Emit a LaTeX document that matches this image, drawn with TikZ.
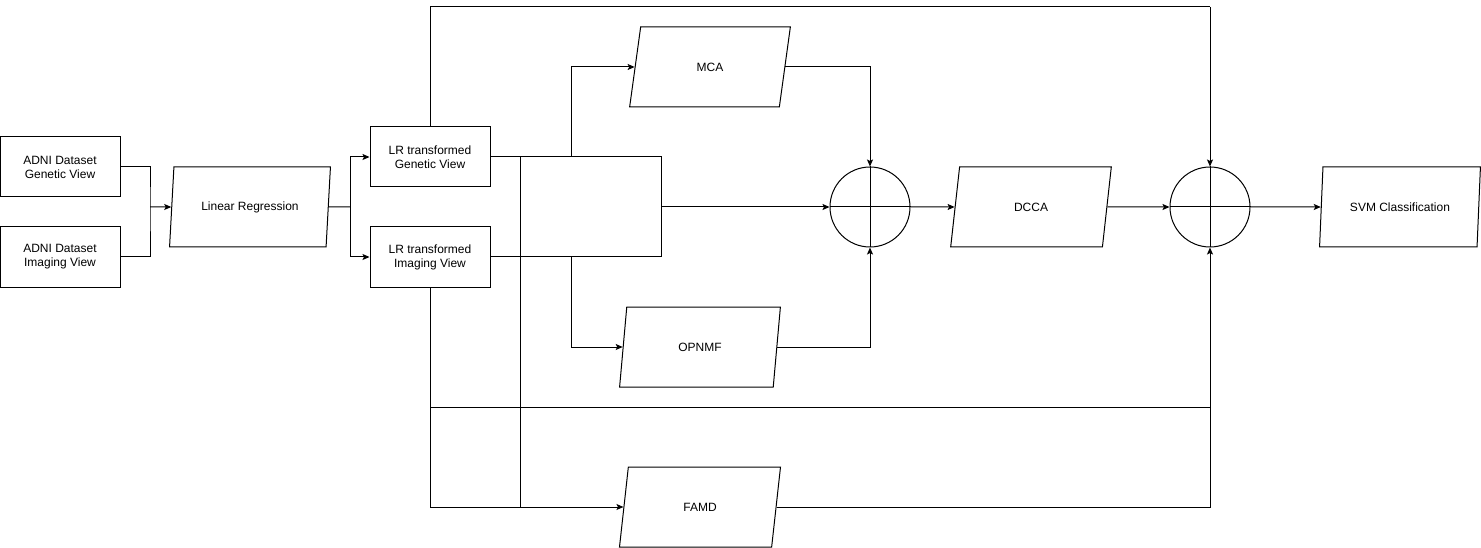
\documentclass[tikz,border=0pt]{standalone}
\usepackage{fontspec}
\setmainfont{Liberation Sans}
\usetikzlibrary{shapes.geometric,arrows.meta}

\begin{document}
\begin{tikzpicture}[x=1pt,y=-1pt,font=\fontsize{12}{14}\selectfont,
        box/.style={draw,line width=1pt,minimum width=120pt,minimum height=60pt,align=center,inner sep=0pt},
        para/.style={draw,line width=1pt,trapezium,trapezium left angle=76,trapezium right angle=104,trapezium stretches=true,minimum width=161pt,minimum height=80pt,inner sep=0pt},
        sum/.style={draw,line width=1pt,circle,minimum size=80pt,inner sep=0pt},
        wire/.style={line width=1pt},
        arr/.style={line width=1pt,-{Stealth[length=7pt,width=6pt,inset=1.5pt]}}]
        \useasboundingbox (0,0) rectangle (1481,548);

        % input views
        \node[box] (gen) at (60,167) {ADNI Dataset\\Genetic View};
        \node[box] (img) at (60,257) {ADNI Dataset\\Imaging View};
        \node[para] (lr) at (250,207) {Linear Regression};
        \node[box] (lrgen) at (430,157) {LR transformed\\Genetic View};
        \node[box] (lrimg) at (430,257) {LR transformed\\Imaging View};

        % reduction methods
        \node[para] (mca) at (710,67) {MCA};
        \node[para] (opnmf) at (700,347) {OPNMF};
        \node[para] (famd) at (700,507) {FAMD};

        % fusion and classifier
        \node[sum] (c1) at (870,207) {};
        \node[sum] (c2) at (1210,207) {};
        \node[para] (dcca) at (1031,207) {DCCA};
        \node[para] (svm) at (1400,207) {SVM Classification};
        \draw[wire] (c1.north) -- (c1.south) (c1.west) -- (c1.east);
        \draw[wire] (c2.north) -- (c2.south) (c2.west) -- (c2.east);

        % junction points
        \coordinate (j1) at (150,207);
        \coordinate (j2) at (350,207);
        \coordinate (bl) at (520,157);
        \coordinate (br) at (661,257);
        \coordinate (bm) at (661,207);
        \coordinate (up) at (571,157);
        \coordinate (dn) at (571,257);
        \coordinate (mid) at (520,507);
        \coordinate (top) at (1210,7);
        \coordinate (lowl) at (430,407);
        \coordinate (lowr) at (1210,407);

        % connectors
        \draw[wire] (gen.east) -| (j1) |- (img.east);
        \draw[arr] (j1) -- (lr.west);
        \draw[wire] (lr.east) -- (j2);
        \draw[arr] (j2) |- (lrgen.west);
        \draw[arr] (j2) |- (lrimg.west);
        \draw[wire] (lrgen.east) -| (br) -- (lrimg.east);
        \draw[wire] (bl) -- (mid);
        \draw[arr] (up) |- (mca.west);
        \draw[arr] (dn) |- (opnmf.west);
        \draw[arr] (bm) -- (c1.west);
        \draw[arr] (mca.east) -| (c1.north);
        \draw[arr] (opnmf.east) -| (c1.south);
        \draw[arr] (c1.east) -- (dcca.west);
        \draw[arr] (dcca.east) -- (c2.west);
        \draw[arr] (c2.east) -- (svm.west);
        \draw[wire] (lrgen.north) |- (top);
        \draw[arr] (top) -- (c2.north);
        \draw[arr] (lrimg.south) |- (famd.west);
        \draw[wire] (lowl) -- (lowr);
        \draw[arr] (famd.east) -| (c2.south);
\end{tikzpicture}
\end{document}
